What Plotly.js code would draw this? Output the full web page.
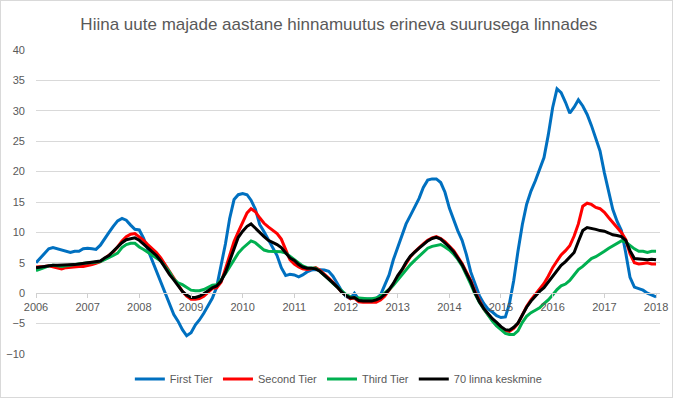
<!DOCTYPE html>
<html>
<head>
<meta charset="utf-8">
<script src="https://cdn.plot.ly/plotly-3.0.1.min.js"></script>
<style>
html,body{margin:0;padding:0;background:#fff;}
#wrap{position:relative;width:675px;height:399px;}
#chart{width:675px;height:399px;}
#frame{position:absolute;left:0;top:0;width:673px;height:398px;box-sizing:border-box;border:1px solid #d9d9d9;pointer-events:none;}
</style>
</head>
<body>
<div id="wrap"><div id="chart"></div><div id="frame"></div></div>
<script>
// Monthly data, January 2006 .. January 2018
var startYear = 2006;
var seriesNames = ["First Tier", "Second Tier", "Third Tier", "70 linna keskmine"];
var seriesColors = ["#0070C0", "#FF0000", "#00B050", "#000000"];

var firstTier = [
  5.0, 5.8, 6.6, 7.3, 7.5, 7.3, 7.0, 6.8, 6.7, 6.9, 6.9, 7.3,
  7.4, 7.3, 7.2, 7.9, 9.0, 10.0, 11.0, 11.9, 12.3, 12.0, 11.2, 10.5,
  10.4, 9.0, 7.2, 5.4, 3.6, 1.7, -0.2, -1.9, -3.5, -4.6, -6.0, -7.0,
  -6.5, -5.2, -4.4, -3.3, -2.0, -0.8, 1.0, 4.3, 8.1, 12.3, 15.4, 16.2,
  16.4, 16.2, 15.3, 13.8, 11.3, 10.1, 8.8, 7.7, 6.2, 4.2, 2.9, 3.1,
  3.0, 2.7, 3.0, 3.5, 3.8, 3.9, 3.9, 3.8, 3.6, 2.8, 1.6, 0.4,
  -0.5, -0.9, 0.0, -1.0, -1.0, -1.0, -1.0, -0.9, -0.3, 1.2, 3.0, 5.5,
  7.5, 9.5, 11.4, 12.8, 14.3, 15.6, 17.4, 18.6, 18.8, 18.8, 18.2, 16.6,
  14.0, 12.0, 10.3, 8.7, 6.4, 3.5, 1.6, -0.4, -1.7, -2.6, -3.1, -3.7,
  -4.0, -3.9, -1.8, 2.1, 6.9, 11.3, 14.6, 16.8, 18.5, 20.4, 22.3, 26.0,
  30.5, 33.6, 33.0, 31.4, 29.6, 30.6, 31.8, 30.8, 29.4, 27.6, 25.4, 23.4,
  19.8, 16.6, 13.8, 11.8, 10.3, 6.6, 2.6, 1.0, 0.7, 0.5, 0.0, -0.3,
  -0.6
];
var secondTier = [
  4.3, 4.3, 4.4, 4.5, 4.3, 4.2, 4.0, 4.2, 4.3, 4.3, 4.4, 4.4,
  4.5, 4.7, 4.9, 5.2, 5.7, 6.2, 6.8, 7.6, 8.6, 9.3, 9.7, 9.8,
  9.3, 8.7, 8.0, 7.4, 6.7, 5.8, 4.8, 3.6, 2.5, 1.3, 0.3, -0.5,
  -1.0, -1.0, -0.9, -0.5, 0.2, 0.8, 0.9, 1.8, 4.0, 6.3, 8.5, 10.1,
  11.8, 13.2, 13.9, 13.4, 12.4, 11.5, 10.9, 10.4, 9.8, 8.9, 7.2, 5.5,
  4.8, 4.3, 4.0, 3.9, 4.0, 4.2, 3.8, 3.2, 2.5, 1.8, 1.0, 0.2,
  -0.3, -0.9, -0.8, -1.4, -1.5, -1.5, -1.5, -1.5, -1.1, -0.5, 0.5, 1.4,
  2.7, 3.8, 5.0, 6.0, 6.8, 7.5, 8.1, 8.7, 9.1, 9.3, 9.0, 8.5,
  7.8, 7.0, 6.0, 4.9, 3.5, 2.1, 0.3, -1.3, -2.6, -3.5, -4.4, -5.3,
  -5.7, -6.2, -6.3, -5.8, -5.0, -3.6, -2.2, -1.1, -0.2, 0.6, 1.6, 2.8,
  4.2, 5.3, 6.3, 7.0, 7.8, 9.4, 11.4, 14.3, 14.8, 14.6, 14.1, 13.9,
  13.3, 12.4, 11.6, 10.8, 10.0, 8.8, 6.5, 5.0, 4.8, 4.9, 5.0, 4.8,
  4.8
];
var thirdTier = [
  3.7, 3.9, 4.2, 4.5, 4.6, 4.5, 4.4, 4.5, 4.6, 4.8, 4.9, 5.0,
  5.0, 5.0, 5.1, 5.2, 5.5, 5.8, 6.2, 6.6, 7.5, 8.0, 8.2, 8.2,
  7.6, 7.2, 6.7, 6.3, 5.8, 5.3, 4.4, 3.5, 2.3, 1.7, 1.4, 1.0,
  0.5, 0.4, 0.4, 0.6, 0.9, 1.3, 1.4, 2.2, 3.2, 4.4, 5.6, 6.6,
  7.4, 8.0, 8.6, 8.3, 7.7, 7.1, 6.9, 6.9, 6.8, 6.8, 6.6, 6.1,
  5.6, 5.0, 4.5, 4.2, 4.1, 4.1, 3.6, 3.0, 2.3, 1.6, 1.0, 0.4,
  -0.2, -0.6, -0.8, -0.8, -0.9, -0.9, -0.9, -0.8, -0.5, 0.0, 0.6, 1.3,
  2.2, 3.0, 3.9, 4.7, 5.4, 6.1, 6.8, 7.4, 7.7, 7.9, 8.0, 7.6,
  7.1, 6.4, 5.6, 4.5, 3.1, 1.5, -0.1, -1.5, -2.6, -3.6, -4.6, -5.4,
  -6.0, -6.6, -6.8, -6.8, -6.2, -4.8, -3.8, -3.2, -2.8, -2.4, -1.7, -1.1,
  -0.3, 0.6, 1.2, 1.5, 2.1, 3.0, 3.9, 4.4, 5.1, 5.7, 6.0, 6.4,
  6.9, 7.4, 7.8, 8.2, 8.6, 8.4, 7.8, 7.3, 6.9, 6.9, 6.7, 6.9,
  6.9
];
var average70 = [
  4.2, 4.3, 4.5, 4.6, 4.6, 4.6, 4.6, 4.6, 4.6, 4.7, 4.8, 4.9,
  4.9, 5.0, 5.1, 5.3, 5.8, 6.2, 6.9, 7.6, 8.3, 8.8, 9.0, 9.1,
  8.7, 8.1, 7.5, 6.9, 6.2, 5.3, 4.2, 3.1, 2.2, 1.2, 0.3, -0.3,
  -0.7, -0.7, -0.5, -0.1, 0.4, 0.9, 1.2, 2.0, 3.4, 5.4, 7.4, 9.2,
  10.2, 11.0, 11.4, 10.7, 9.9, 9.3, 8.7, 8.4, 8.0, 7.5, 6.7, 5.8,
  5.4, 4.7, 4.3, 4.1, 4.1, 4.0, 3.6, 3.0, 2.4, 1.7, 1.0, 0.2,
  -0.4, -0.8, -0.7, -1.2, -1.3, -1.3, -1.3, -1.1, -0.8, -0.2, 0.6, 1.6,
  2.9, 3.9, 5.1, 6.1, 6.8, 7.4, 8.0, 8.6, 9.0, 9.2, 8.9, 8.3,
  7.6, 6.8, 5.8, 4.7, 3.3, 1.9, 0.1, -1.4, -2.5, -3.4, -4.2, -4.8,
  -5.5, -6.0, -6.1, -5.6, -4.9, -3.6, -2.3, -1.3, -0.5, 0.3, 0.9, 1.8,
  2.9, 3.8, 4.6, 5.2, 5.9, 6.7, 8.5, 10.3, 10.8, 10.7, 10.5, 10.3,
  10.2, 9.9, 9.6, 9.5, 9.3, 8.7, 7.0, 5.7, 5.6, 5.6, 5.5, 5.6,
  5.5
];
var yTicks = [-10, -5, 0, 5, 10, 15, 20, 25, 30, 35, 40];

function monthDates(n) {
  var out = [];
  for (var i = 0; i < n; i++) {
    var y = startYear + Math.floor(i / 12);
    var m = (i % 12) + 1;
    out.push(y + "-" + (m < 10 ? "0" + m : m) + "-01");
  }
  return out;
}

var allSeries = [firstTier, secondTier, thirdTier, average70];
var traces = allSeries.map(function (vals, k) {
  return {
    type: "scatter",
    mode: "lines",
    name: seriesNames[k],
    x: monthDates(vals.length),
    y: vals,
    line: { color: seriesColors[k], width: 3 },
    hoverinfo: "skip"
  };
});

var textColor = "#595959";
var layout = {
  width: 675,
  height: 399,
  margin: { l: 36, r: 15, t: 50, b: 45 },
  paper_bgcolor: "#ffffff",
  plot_bgcolor: "#ffffff",
  font: { family: "Liberation Sans, Arial, sans-serif", color: textColor, size: 11 },
  title: {
    text: "Hiina uute majade aastane hinnamuutus erineva suurusega linnades",
    font: { family: "Liberation Sans, Arial, sans-serif", size: 17, color: textColor },
    x: 0.502, xanchor: "center", xref: "container",
    y: 0.94, yanchor: "middle", yref: "container"
  },
  xaxis: {
    type: "date",
    range: ["2006-01-01", "2018-01-29"],
    tick0: "2006-01-01",
    dtick: "M12",
    tickformat: "%Y",
    showgrid: false,
    zeroline: false,
    showline: true,
    linecolor: "#d0d0d0",
    linewidth: 1,
    ticks: "outside",
    ticklen: 4,
    tickcolor: "#d0d0d0",
    anchor: "free",
    position: 0.2,
    tickfont: { size: 11, color: textColor },
    fixedrange: true
  },
  yaxis: {
    range: [-10, 40],
    tickvals: yTicks,
    showgrid: true,
    gridcolor: "#d9d9d9",
    gridwidth: 1,
    zeroline: false,
    showline: false,
    ticks: "",
    ticklabelstandoff: 10,
    tickfont: { size: 11, color: textColor },
    fixedrange: true
  },
  showlegend: true,
  legend: {
    orientation: "h",
    xref: "container", x: 0.502, xanchor: "center",
    yref: "container", y: 0.05, yanchor: "middle",
    font: { size: 11, color: textColor },
    bgcolor: "rgba(0,0,0,0)"
  }
};

Plotly.newPlot("chart", traces, layout, { displayModeBar: false, staticPlot: true });
</script>
</body>
</html>
